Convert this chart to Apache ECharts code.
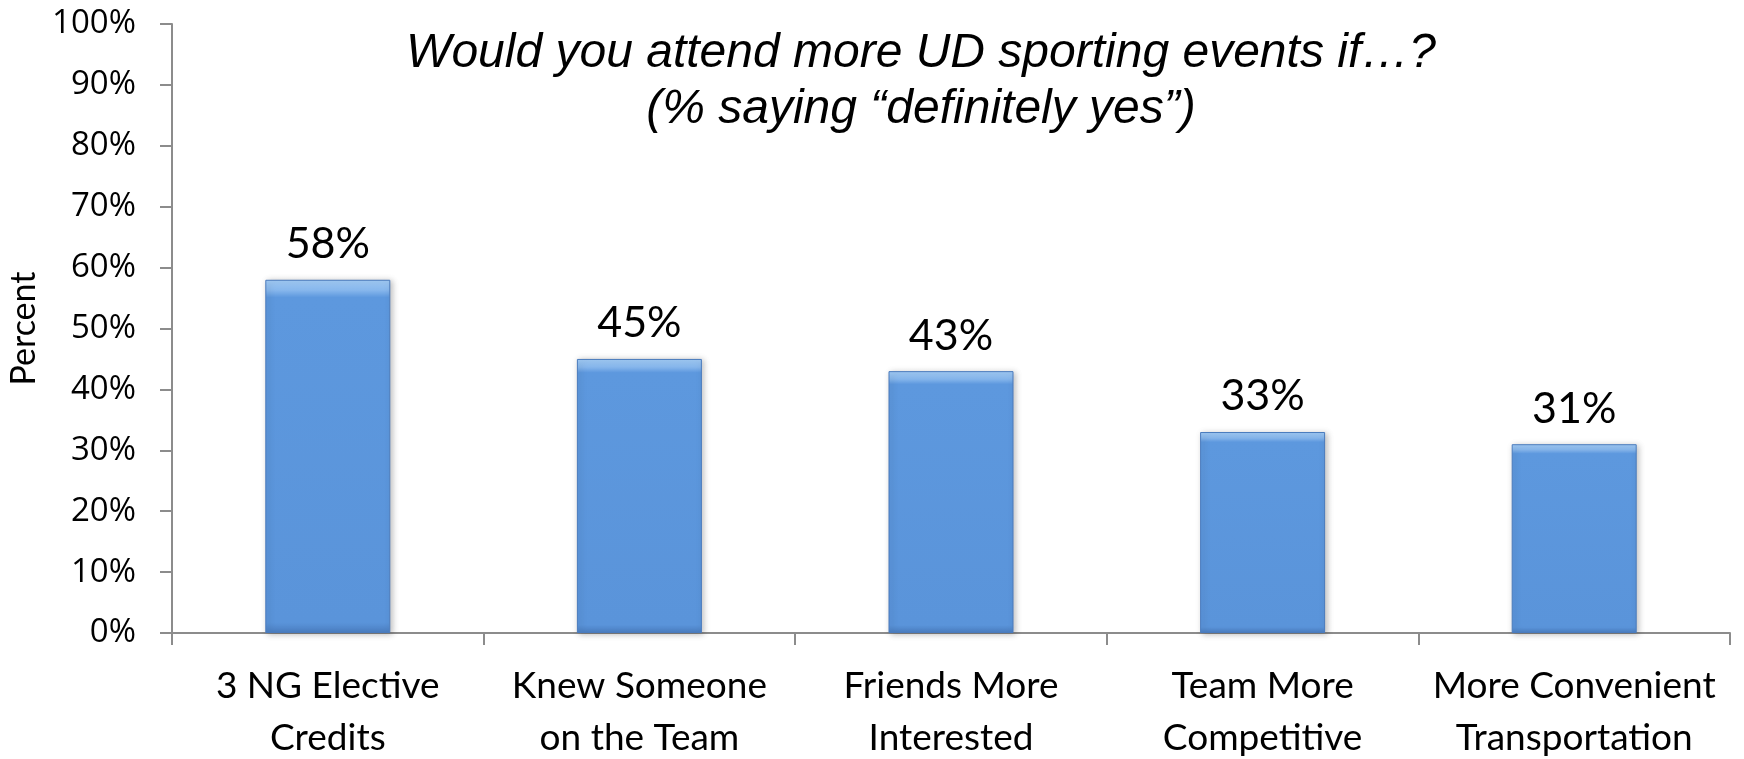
<!DOCTYPE html>
<html>
<head>
<meta charset="utf-8">
<script src="https://cdn.jsdelivr.net/npm/echarts@6/dist/echarts.min.js"></script>
<style>
html,body{margin:0;padding:0;background:#fff;}
#main{width:1744px;height:759px;}
</style>
</head>
<body>
<div id="main"></div>
<script>
var categories = ['3 NG Elective\nCredits', 'Knew Someone\non the Team', 'Friends More\nInterested', 'Team More\nCompetitive', 'More Convenient\nTransportation'];
var values = [58, 45, 43, 33, 31];
var yTicks = { min: 0, max: 100, interval: 10 };
var titleLines = ['Would you attend more UD sporting events if\u2026?', '(% saying \u201cdefinitely yes\u201d)'];
var yAxisName = 'Percent';

var chart = echarts.init(document.getElementById('main'));
var axisColor = '#8c8c8c';
chart.setOption({
  animation: false,
  backgroundColor: '#ffffff',
  title: {
    text: titleLines.join('\n'),
    left: 916,
    top: 21,
    textAlign: 'center',
    textStyle: {
      fontFamily: 'Liberation Sans',
      fontStyle: 'italic',
      fontWeight: 'normal',
      fontSize: 48,
      lineHeight: 56,
      color: '#000'
    }
  },
  grid: { left: 172, right: 14, top: 24, bottom: 126, containLabel: false, outerBoundsMode: 'none' },
  xAxis: {
    type: 'category',
    data: categories,
    axisLine: { show: true, lineStyle: { color: axisColor, width: 2 } },
    axisTick: { show: true, length: 12, alignWithLabel: false, lineStyle: { color: axisColor, width: 2 } },
    axisLabel: {
      interval: 0,
      margin: 27,
      fontFamily: 'Lato',
      fontSize: 37,
      lineHeight: 52,
      color: '#000'
    },
    splitLine: { show: false }
  },
  yAxis: {
    type: 'value',
    min: yTicks.min,
    max: yTicks.max,
    interval: yTicks.interval,
    name: yAxisName,
    nameLocation: 'middle',
    nameGap: 127,
    nameRotate: 90,
    nameTextStyle: { fontFamily: 'Lato', fontSize: 34, color: '#000' },
    axisLine: { show: true, lineStyle: { color: axisColor, width: 2 } },
    axisTick: { show: true, length: 12, inside: false, lineStyle: { color: axisColor, width: 2 } },
    axisLabel: {
      formatter: '{value}%',
      margin: 36,
      fontFamily: 'Open Sans',
      fontSize: 33,
      color: '#000'
    },
    splitLine: { show: false }
  },
  series: [{
    type: 'bar',
    data: values,
    barWidth: 125,
    itemStyle: {
      color: new echarts.graphic.LinearGradient(0, 0, 0, 1, [
        { offset: 0, color: '#a3cdf7' },
        { offset: 0.03, color: '#86b6ec' },
        { offset: 0.05, color: '#5d98de' },
        { offset: 0.97, color: '#5a94da' },
        { offset: 1, color: '#4b7fc2' }
      ]),
      borderColor: '#4a7bbd',
      borderWidth: 1,
      shadowColor: 'rgba(0,0,0,0.25)',
      shadowBlur: 6,
      shadowOffsetX: 2,
      shadowOffsetY: 1
    },
    label: {
      show: true,
      position: 'top',
      distance: 14,
      formatter: '{c}%',
      fontFamily: 'Lato',
      fontSize: 43,
      color: '#000'
    }
  }]
});
</script>
</body>
</html>
